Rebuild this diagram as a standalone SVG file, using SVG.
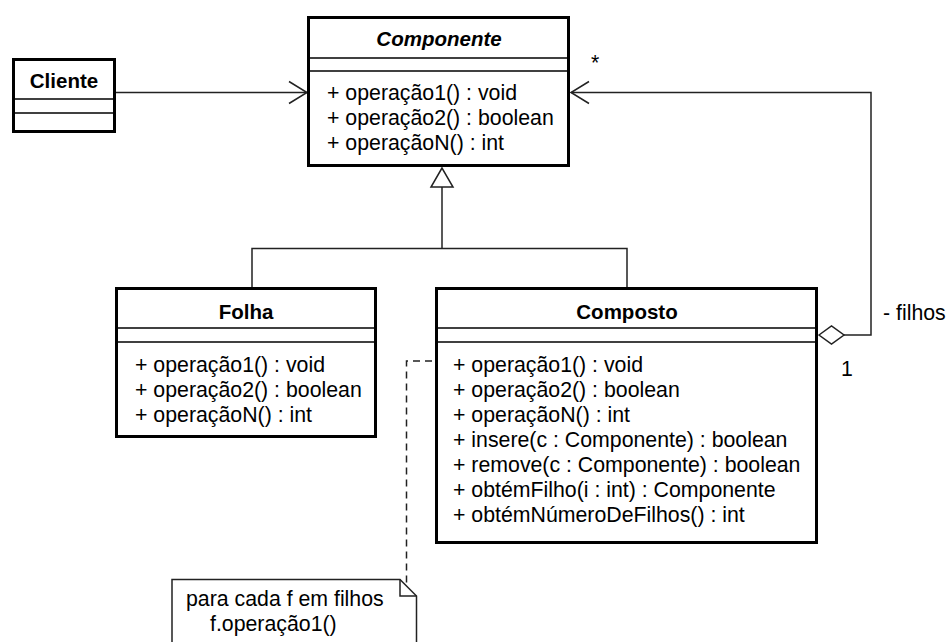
<svg xmlns="http://www.w3.org/2000/svg" width="948" height="642" viewBox="0 0 948 642">
  <style>
    .box { fill: #ffffff; stroke: #000000; stroke-width: 3; }
    .div { stroke: #000000; stroke-width: 1.5; fill: none; }
    .title { font-family: "Liberation Sans", Arial, sans-serif; font-size: 20.5px; font-weight: bold; fill: #000000; text-anchor: middle; }
    .abstract { font-style: italic; }
    .op { font-family: "Liberation Sans", Arial, sans-serif; font-size: 21.3px; fill: #000000; }
    .line { fill: none; stroke: #222222; stroke-width: 1.5; }
    .dash { fill: none; stroke: #222222; stroke-width: 1.5; stroke-dasharray: 7 5; }
    .head { fill: none; stroke: #222222; stroke-width: 1.5; }
    .hollow { fill: #ffffff; stroke: #222222; stroke-width: 1.5; }
  </style>

  <!-- connectors -->
  <g id="connectors">
    <!-- Cliente -> Componente association -->
    <line class="line" x1="116" y1="92.5" x2="307" y2="92.5"/>
    <polyline class="head" points="289,81.5 307,92.5 289,103.5"/>

    <!-- generalization: Folha / Composto -> Componente -->
    <polyline class="line" points="252,287 252,248.5 627,248.5 627,287"/>
    <line class="line" x1="442" y1="248.5" x2="442" y2="187"/>
    <polygon class="hollow" points="442,168 431,187 453,187"/>

    <!-- aggregation: Composto children -->
    <polygon class="hollow" points="819,335 831.5,326 844,335 831.5,344"/>
    <polyline class="line" points="844,335 871,335 871,92.5 571,92.5"/>
    <polyline class="head" points="589,81.5 571,92.5 589,103.5"/>
    <text class="op" x="591" y="70">*</text>
    <text class="op" x="883" y="320">- filhos</text>
    <text class="op" x="841" y="376">1</text>

    <!-- note anchor -->
    <polyline class="dash" points="432,361 406.5,361 406.5,588"/>
  </g>

  <!-- Cliente -->
  <g id="cliente">
    <rect class="box" x="13.5" y="59.5" width="101" height="72"/>
    <line class="div" x1="13" y1="99" x2="115" y2="99"/>
    <line class="div" x1="13" y1="113" x2="115" y2="113"/>
    <text class="title" x="64" y="88">Cliente</text>
  </g>

  <!-- Componente -->
  <g id="componente">
    <rect class="box" x="308.5" y="17.5" width="260" height="148"/>
    <line class="div" x1="308" y1="58" x2="569" y2="58"/>
    <line class="div" x1="308" y1="71" x2="569" y2="71"/>
    <text class="title abstract" x="439" y="46">Componente</text>
    <text class="op" x="327" y="100">+ operação1() : void</text>
    <text class="op" x="327" y="125">+ operação2() : boolean</text>
    <text class="op" x="327" y="150">+ operaçãoN() : int</text>
  </g>

  <!-- Folha -->
  <g id="folha">
    <rect class="box" x="116.5" y="288.5" width="259" height="148"/>
    <line class="div" x1="116" y1="328" x2="376" y2="328"/>
    <line class="div" x1="116" y1="342" x2="376" y2="342"/>
    <text class="title" x="246" y="319">Folha</text>
    <text class="op" x="135" y="372">+ operação1() : void</text>
    <text class="op" x="135" y="397">+ operação2() : boolean</text>
    <text class="op" x="135" y="422">+ operaçãoN() : int</text>
  </g>

  <!-- Composto -->
  <g id="composto">
    <rect class="box" x="436.5" y="288.5" width="380" height="254"/>
    <line class="div" x1="436" y1="328" x2="817" y2="328"/>
    <line class="div" x1="436" y1="342" x2="817" y2="342"/>
    <text class="title" x="627" y="319">Composto</text>
    <text class="op" x="453" y="372">+ operação1() : void</text>
    <text class="op" x="453" y="397">+ operação2() : boolean</text>
    <text class="op" x="453" y="422">+ operaçãoN() : int</text>
    <text class="op" x="453" y="447">+ insere(c : Componente) : boolean</text>
    <text class="op" x="453" y="472">+ remove(c : Componente) : boolean</text>
    <text class="op" x="453" y="497">+ obtémFilho(i : int) : Componente</text>
    <text class="op" x="453" y="522">+ obtémNúmeroDeFilhos() : int</text>
  </g>

  <!-- note -->
  <g id="nota">
    <path class="hollow" d="M172,650 L172,579.5 L400,579.5 L416.5,596 L416.5,650"/>
    <polyline class="line" points="400,579.5 400,596 416.5,596"/>
    <text class="op" x="186" y="606">para cada f em filhos</text>
    <text class="op" x="210" y="631">f.operação1()</text>
  </g>
</svg>
